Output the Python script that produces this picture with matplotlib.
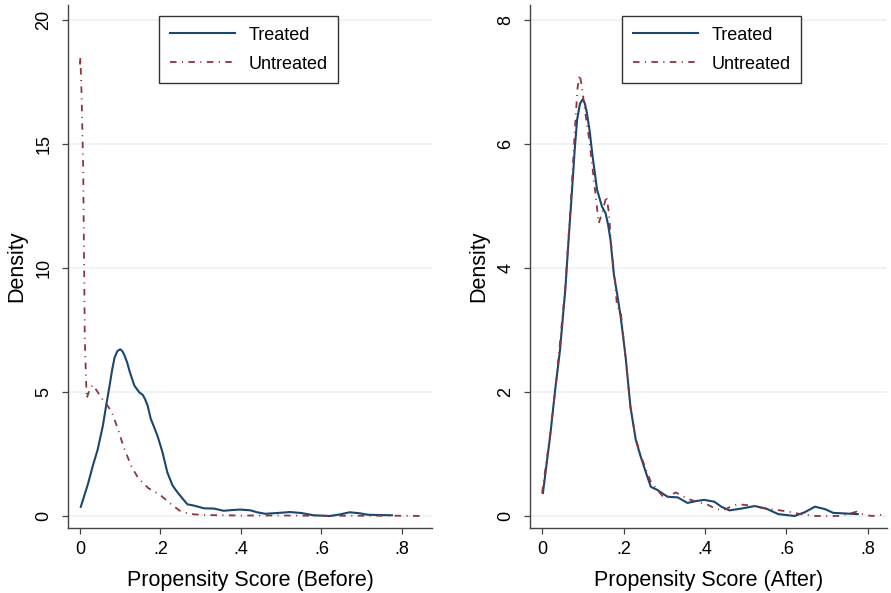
import matplotlib

matplotlib.use("Agg")
import matplotlib.pyplot as plt
import numpy as np

# kernel density curves
treated_x = [0.002, 0.02, 0.032, 0.044, 0.057, 0.065, 0.073, 0.08, 0.086, 0.093, 0.1, 0.105,
             0.110, 0.117, 0.123, 0.135, 0.147, 0.156, 0.162, 0.168, 0.176, 0.185, 0.193, 0.205,
             0.217, 0.23, 0.242, 0.255, 0.267, 0.283, 0.308, 0.333, 0.357, 0.378, 0.398, 0.423,
             0.44, 0.46, 0.49, 0.522, 0.55, 0.58, 0.62, 0.645, 0.67, 0.695, 0.715, 0.745, 0.775]
treated_y = [0.37, 1.30, 2.03, 2.68, 3.65, 4.45, 5.2, 5.9, 6.39, 6.65, 6.72, 6.65,
             6.5, 6.2, 5.85, 5.26, 4.99, 4.88, 4.7, 4.45, 3.91, 3.55, 3.21, 2.57,
             1.76, 1.23, 0.96, 0.7, 0.47, 0.42, 0.31, 0.30, 0.21, 0.24, 0.26, 0.23,
             0.15, 0.09, 0.12, 0.16, 0.12, 0.03, 0.0, 0.06, 0.15, 0.11, 0.05, 0.04, 0.03]

before_x = [0.0, 0.001, 0.004, 0.008, 0.012, 0.0166, 0.024, 0.0315, 0.042, 0.054, 0.066, 0.079,
            0.095, 0.108, 0.128, 0.145, 0.17, 0.199, 0.224, 0.248, 0.265, 0.282, 0.31, 0.35,
            0.4, 0.5, 0.6, 0.7, 0.8, 0.85]
before_y = [18.2, 18.5, 17.0, 14.0, 7.1, 4.74, 5.1, 5.28, 5.05, 4.74, 4.5, 4.2,
            3.47, 2.8, 1.99, 1.52, 1.12, 0.85, 0.51, 0.21, 0.12, 0.07, 0.04, 0.03,
            0.02, 0.02, 0.01, 0.01, 0.01, 0.0]

after_x = [0.0, 0.02, 0.036, 0.057, 0.07, 0.081, 0.087, 0.092, 0.097, 0.105, 0.115, 0.124,
           0.131, 0.139, 0.148, 0.158, 0.164, 0.17, 0.178, 0.184, 0.193, 0.205, 0.217, 0.23,
           0.242, 0.255, 0.267, 0.283, 0.30, 0.315, 0.328, 0.345, 0.365, 0.385, 0.407, 0.425,
           0.444, 0.46, 0.48, 0.51, 0.547, 0.575, 0.604, 0.635, 0.67, 0.7, 0.728, 0.75,
           0.773, 0.79, 0.81, 0.835]
after_y = [0.37, 1.33, 2.25, 3.7, 5.0, 6.28, 6.9, 7.12, 6.95, 6.55, 6.1, 5.6,
           5.2, 4.72, 4.9, 5.16, 4.89, 4.35, 3.85, 3.38, 3.3, 2.55, 1.75, 1.25,
           0.98, 0.75, 0.55, 0.42, 0.29, 0.33, 0.38, 0.32, 0.26, 0.22, 0.18, 0.12,
           0.09, 0.14, 0.19, 0.17, 0.12, 0.1, 0.07, 0.03, 0.0, 0.0, 0.0, 0.03,
           0.07, 0.02, 0.0, 0.02]

x_ticks = [0, 0.2, 0.4, 0.6, 0.8]
x_ticklabels = ["0", ".2", ".4", ".6", ".8"]
left_yticks = [0, 5, 10, 15, 20]
right_yticks = [0, 2, 4, 6, 8]

TREATED_COLOR = "#1a476f"
UNTREATED_COLOR = "#90353b"
GRID_COLOR = "#eaf2f3"
AXIS_COLOR = "#444444"

plt.rc("font", family=["Liberation Sans", "DejaVu Sans"])


def style_axis(ax, yticks, ylim, xright, xlabel):
    ax.set_xlim(-0.0298, xright)
    ax.set_ylim(*ylim)
    ax.set_xticks(x_ticks)
    ax.set_xticklabels(x_ticklabels)
    ax.set_yticks(yticks)
    ax.set_yticklabels([str(t) for t in yticks], rotation=90, va="center")
    for side in ("top", "right"):
        ax.spines[side].set_visible(False)
    for side in ("left", "bottom"):
        ax.spines[side].set_color(AXIS_COLOR)
        ax.spines[side].set_linewidth(1.0)
    ax.tick_params(axis="both", length=4.3, width=0.9, color=AXIS_COLOR, labelsize=13)
    ax.tick_params(axis="y", pad=7)
    ax.tick_params(axis="x", pad=5)
    ax.yaxis.grid(True, color=GRID_COLOR, linewidth=1.2)
    ax.set_axisbelow(True)
    ax.set_xlabel(xlabel, fontsize=15.5, labelpad=9)
    ax.set_ylabel("Density", fontsize=15.5, labelpad=6)


fig = plt.figure(figsize=(8.91, 5.93), dpi=100)
ax1 = fig.add_axes([0.0763, 0.1096, 0.4085, 0.882])
ax2 = fig.add_axes([0.5948, 0.1096, 0.4007, 0.882])

dash_dot = (0, (3.6, 3.0, 0.6, 3.0))

for ax, ux, uy, yticks, ylim, xright, xlabel, legx in (
    (ax1, before_x, before_y, left_yticks, (-0.484, 20.6), 0.8745, "Propensity Score (Before)", 0.25),
    (ax2, after_x, after_y, right_yticks, (-0.194, 8.24), 0.847, "Propensity Score (After)", 0.258),
):
    ax.plot(treated_x, treated_y, color=TREATED_COLOR, linewidth=1.5, label="Treated")
    ax.plot(ux, uy, color=UNTREATED_COLOR, linewidth=1.3, linestyle=dash_dot, label="Untreated")
    style_axis(ax, yticks, ylim, xright, xlabel)
    leg = ax.legend(loc="upper left", bbox_to_anchor=(legx, 0.979),
                    fontsize=13, frameon=True, fancybox=False, edgecolor="black",
                    handlelength=3.6, handletextpad=0.75, borderpad=0.6, labelspacing=0.65,
                    borderaxespad=0)
    leg.get_frame().set_linewidth(1.0)

fig.savefig("out.png", dpi=100)
